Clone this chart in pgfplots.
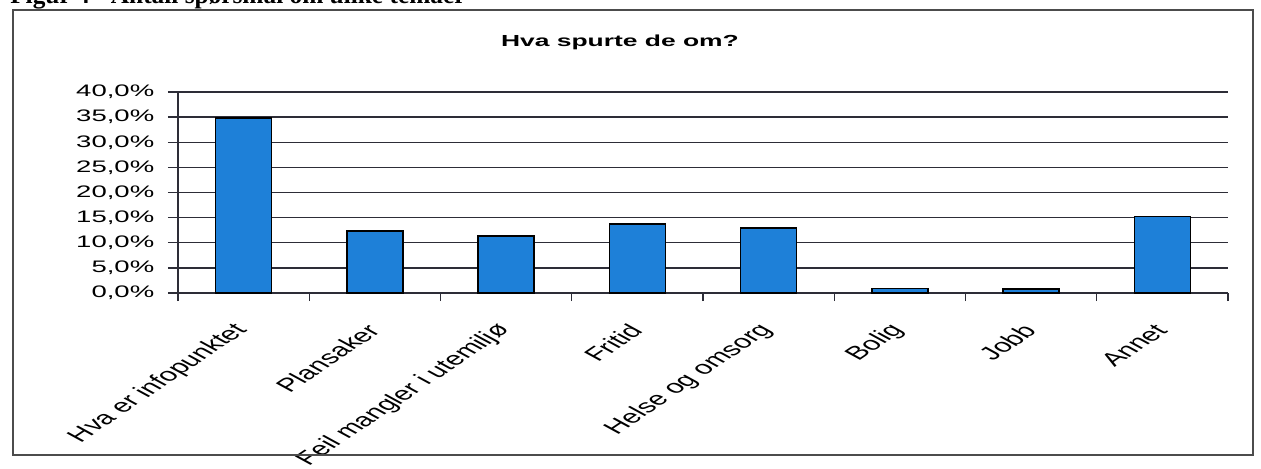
\documentclass[border=0pt]{standalone}
\usepackage{fontspec}
\setmainfont{Liberation Sans}
\newfontfamily\capserif{Liberation Serif}
\usepackage{pgfplots}
\pgfplotsset{compat=1.18}
\definecolor{barblue}{RGB}{30,128,216}
\definecolor{gridc}{RGB}{45,45,55}

\begin{document}
\begin{tikzpicture}
\begin{axis}[
  at={(0pt,0pt)}, anchor=origin,
  scale only axis, width=787.5pt, height=150.75pt,
  xmin=0, xmax=8, ymin=0, ymax=40,
  axis x line*=bottom, axis y line*=left,
  axis line style={-, gridc, line width=1.2pt},
  tick align=outside,
  ytick={0,5,...,40},
  yticklabels={{0,0\%},{5,0\%},{10,0\%},{15,0\%},{20,0\%},{25,0\%},{30,0\%},{35,0\%},{40,0\%}},
  ymajorgrids, grid style={gridc, line width=1.1pt},
  major tick length=7.5pt, minor tick length=6pt,
  tick style={gridc, line width=1.1pt},
  xtick={0.5,1.5,...,7.5},
  minor xtick={0,1,...,8},
  major x tick style={draw=none},
  xticklabels={Hva er infopunktet, Plansaker, Feil mangler i utemiljø, Fritid, Helse og omsorg, Bolig, Jobb, Annet},
  yticklabel style={font=\fontsize{12.5}{14}\selectfont, anchor=east, inner sep=0pt, xshift=-10pt, xscale=1.65},
  xticklabel style={font=\fontsize{14}{16}\selectfont, anchor=east, inner sep=0pt, yshift=-18pt, xshift=-1pt, xscale=1.65, rotate=48},
]
\addplot[ybar, bar width=42pt, fill=barblue, draw=black, line width=1.3pt]
  coordinates {(0.5,34.9) (1.5,12.3) (2.5,11.4) (3.5,13.8) (4.5,13.0) (5.5,0.9) (6.5,0.8) (7.5,15.2)};
\end{axis}
\begin{scope}[shift={(-133.5pt,-131.25pt)}, x=1pt, y=1pt]
\begin{scope}
\clip (0,0) rectangle (945.75,351);
\node[anchor=base west, inner sep=0pt, font=\capserif\bfseries\fontsize{19}{22}\selectfont] at (7.5,348.5) {Figur 4 - Antall spørsmål om ulike temaer};
\end{scope}
\draw[gray!60!black, line width=0.9pt] (9.75,343.5) rectangle (939.75,9.75);
\node[font=\bfseries\fontsize{12}{14}\selectfont, xscale=1.65, inner sep=0pt] at (465,319.5) {Hva spurte de om?};
\end{scope}
\pgfresetboundingbox
\path[use as bounding box] (-133.5pt,-131.25pt) rectangle (812.25pt,219.75pt);
\end{tikzpicture}
\end{document}
